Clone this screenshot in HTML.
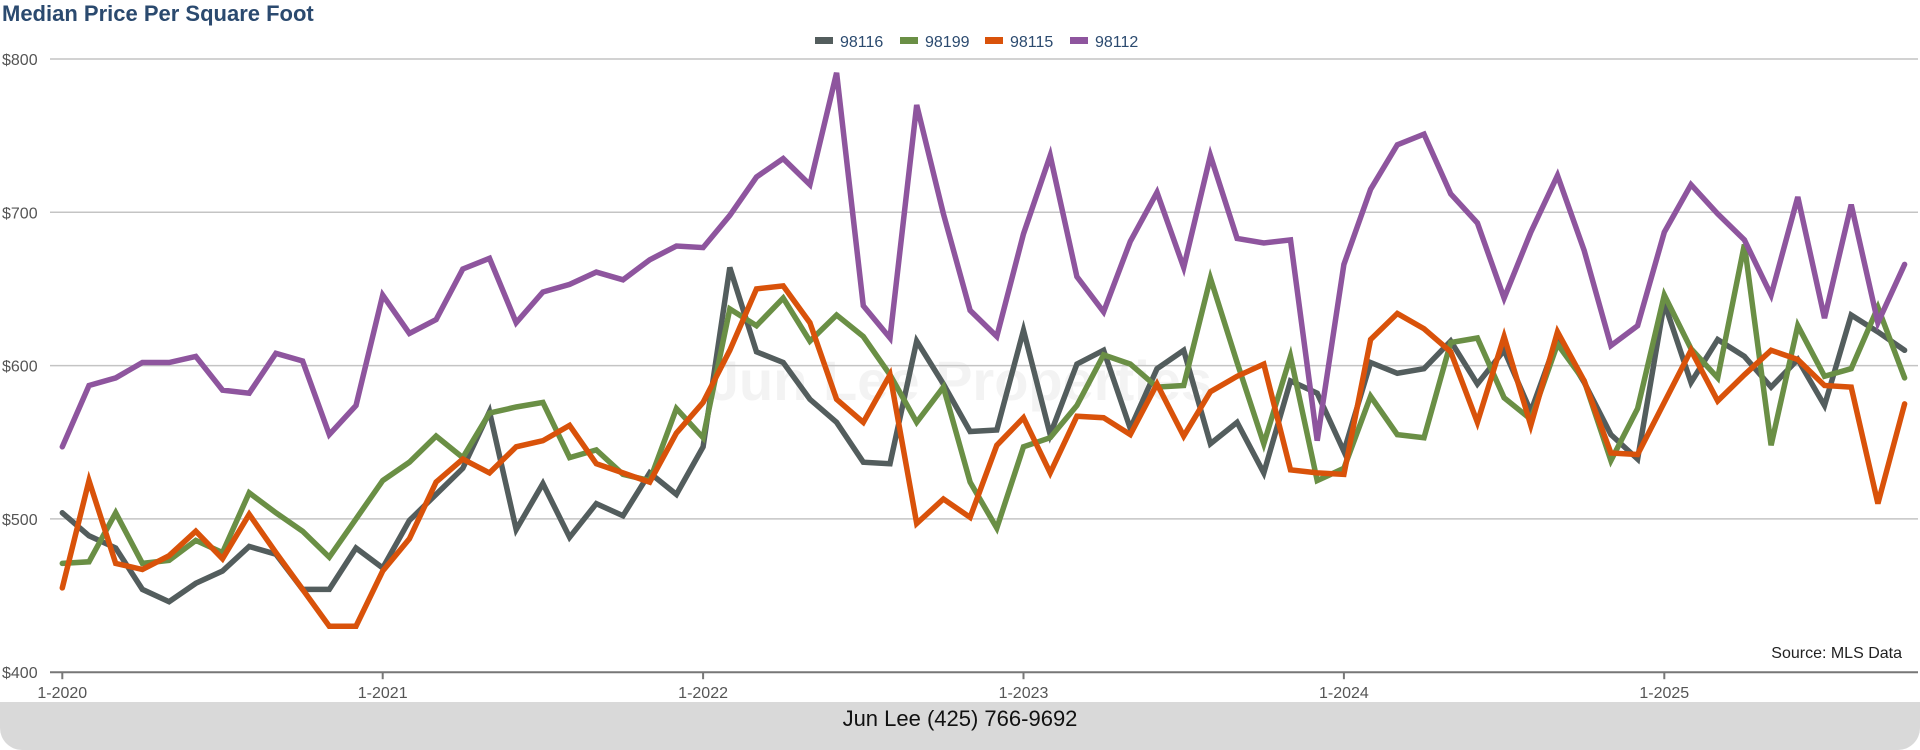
<!DOCTYPE html>
<html><head><meta charset="utf-8"><style>
body{margin:0;width:1920px;height:750px;background:#fff;overflow:hidden;font-family:"Liberation Sans",sans-serif;position:relative}
#title{position:absolute;left:2px;top:1px;font-size:22px;font-weight:bold;color:#2b4a6f}
#footer{position:absolute;left:0;top:702px;width:1920px;height:48px;background:#d9d9d9;border-radius:0 0 22px 22px;text-align:center;line-height:34px;font-size:22px;color:#111}
</style></head><body>
<div id="title">Median Price Per Square Foot</div>
<svg id="chart" width="1920" height="702" style="position:absolute;left:0;top:0"></svg>
<div id="footer">Jun Lee (425) 766-9692</div>
<script>
const months = 70;
const seriesNames = ["98116","98199","98115","98112"];
const seriesColors = ["#535d5d","#6a8f45","#d9520a","#8e559e"];
const yTicks = [400,500,600,700,800];
const xTickLabels = ["1-2020","1-2021","1-2022","1-2023","1-2024","1-2025"];
const xTickIndex = [0,12,24,36,48,60];
const s98116 = [504,489,481,454,446,458,466,482,477,454,454,481,468,499,516,533,570,493,523,488,510,502,530,516,547,664,609,602,578,563,537,536,616,588,557,558,623,555,601,610,559,598,610,549,563,530,590,582,544,602,595,598,616,588,610,570,618,589,555,539,641,589,617,606,586,604,574,633,622,610];
const s98199 = [471,472,504,471,473,486,478,517,504,492,475,500,525,537,554,540,569,573,576,540,545,529,525,572,553,637,626,644,616,633,619,594,563,586,524,494,547,553,574,607,601,586,587,657,602,549,606,525,533,580,555,553,615,618,579,565,614,590,538,572,646,611,592,679,548,626,593,598,638,592];
const s98115 = [455,525,471,467,476,492,474,503,478,454,430,430,466,487,524,539,530,547,551,561,536,530,524,556,576,610,650,652,628,578,563,594,497,513,501,548,566,530,567,566,555,588,554,583,593,601,532,530,529,617,634,624,609,563,619,561,622,590,543,542,576,610,577,594,610,604,587,586,510,575];
const s98112 = [547,587,592,602,602,606,584,582,608,603,555,574,646,621,630,663,670,628,648,653,661,656,669,678,677,698,723,735,718,791,639,618,770,699,636,619,686,737,658,635,681,713,664,737,683,680,682,551,666,715,744,751,712,693,644,687,724,675,613,626,687,718,699,682,646,710,631,705,628,666];
const allSeries = [s98116,s98199,s98115,s98112];

const NS="http://www.w3.org/2000/svg";
const svg=document.getElementById('chart');
const X0=62.3, XSTEP=26.7, Y800=59, YPER=1.533;
function xPos(i){return X0+XSTEP*i;}
function yPos(v){return Y800+(800-v)*YPER;}
function mk(t,a){const e=document.createElementNS(NS,t);for(const k in a)e.setAttribute(k,a[k]);svg.appendChild(e);return e;}

const wm=mk('text',{x:960,y:400,'font-size':56,'font-weight':'bold',fill:'#f3f3f3','text-anchor':'middle'});
wm.textContent='Jun Lee Properties';



yTicks.forEach(v=>{
  const y=yPos(v);
  if(v>400){
    const g=mk('line',{x1:50,x2:1918,y1:y,y2:y,stroke:'#c4c4c4','stroke-width':1.5});
    
    
  }
  const t=mk('text',{x:2,y:y+6,'font-size':16,fill:'#555'});
  t.textContent='$'+v;
  
  
});
const ax=mk('line',{x1:50,x2:1918,y1:yPos(400),y2:yPos(400),stroke:'#777','stroke-width':2});


xTickIndex.forEach((idx,k)=>{
  const x=xPos(idx);
  const tk=mk('line',{x1:x,x2:x,y1:yPos(400),y2:yPos(400)+7,stroke:'#777','stroke-width':2});
  
  
  const t=mk('text',{x:x,y:698,'font-size':16,fill:'#555','text-anchor':'middle'});
  t.textContent=xTickLabels[k];
  
  
});
allSeries.forEach((s,si)=>{
  const pts=s.map((v,i)=>xPos(i).toFixed(1)+','+yPos(v).toFixed(1)).join(' ');
  const p=mk('polyline',{points:pts,fill:'none',stroke:seriesColors[si],'stroke-width':5.5,'stroke-linejoin':'miter','stroke-linecap':'round'});
  
  
});
const legX=[815,900,985,1070];
seriesNames.forEach((n,i)=>{
  const r=mk('rect',{x:legX[i],y:37,width:18,height:7,fill:seriesColors[i]});
  
  
  const t=mk('text',{x:legX[i]+25,y:47,'font-size':16,fill:'#2b4a6f'});
  t.textContent=n;
  
  
});
const src=mk('text',{x:1902,y:658,'font-size':16,fill:'#222','text-anchor':'end'});
src.textContent='Source: MLS Data';


</script>
</body></html>
